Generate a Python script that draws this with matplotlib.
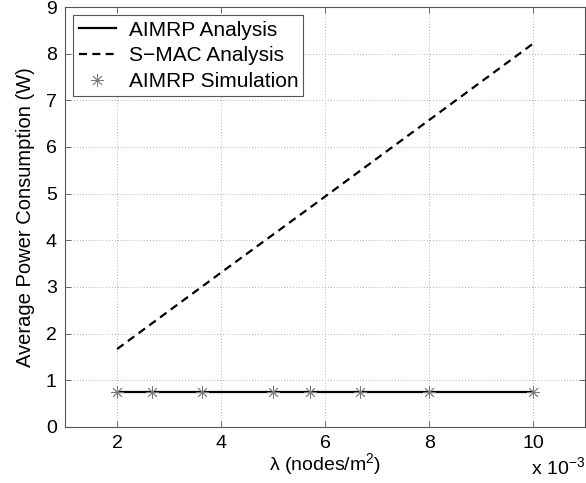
import matplotlib
matplotlib.use('Agg')
import matplotlib.pyplot as plt

# --- data (lambda in units of 1e-3 nodes/m^2) ---
lam_analysis = [2, 4, 6, 8, 10]
aimrp_analysis = [0.74, 0.74, 0.74, 0.74, 0.74]
smac_analysis = [1.67, 3.31, 4.94, 6.58, 8.22]

lam_sim = [2, 2.67, 3.64, 5, 5.71, 6.67, 8, 10]
aimrp_sim = [0.74, 0.74, 0.74, 0.74, 0.74, 0.74, 0.74, 0.74]

xticks = [2, 4, 6, 8, 10]
yticks = list(range(0, 10))

plt.rcParams['font.family'] = ['Liberation Sans', 'DejaVu Sans']
plt.rcParams['mathtext.fontset'] = 'custom'
plt.rcParams['mathtext.rm'] = 'Liberation Sans'
plt.rcParams['mathtext.it'] = 'Liberation Sans'

AX_COLOR = '#555555'
FS = 14

fig = plt.figure(figsize=(5.86, 4.83), dpi=100)
ax = fig.add_axes([0.111, 0.116, 0.888, 0.8695])

ax.plot(lam_analysis, aimrp_analysis, color='black', lw=1.6, label='AIMRP Analysis')
ax.plot(lam_analysis, smac_analysis, color='black', lw=1.6, ls=(0, (3.6, 2.4)), label='S\u2212MAC Analysis')
ax.plot(lam_sim, aimrp_sim, ls='none', marker=(8, 2, 0), ms=9, mew=0.6,
        color='#7a7a7a', label='AIMRP Simulation')

ax.set_xlim(1, 11)
ax.set_ylim(0, 9)
ax.set_xticks(xticks)
ax.set_yticks(yticks)
ax.tick_params(direction='in', length=4, width=0.6, colors=AX_COLOR,
               labelcolor='black', labelsize=FS, top=True, right=True, pad=6)
for sp in ax.spines.values():
    sp.set_color(AX_COLOR)
    sp.set_linewidth(0.8)

ax.grid(True, ls=(0, (1, 2.5)), color='#9a9a9a', lw=0.6)

ax.set_xlabel('\u03bb (nodes/m$^2$)', fontsize=FS, labelpad=-1)
ax.set_ylabel('Average Power Consumption (W)', fontsize=FS + 0.5, labelpad=8)
fig.text(0.999, 0.01, 'x 10$^{-3}$', fontsize=FS, ha='right', va='bottom')

leg = ax.legend(loc='upper left', fontsize=15, fancybox=False, framealpha=1,
                edgecolor=AX_COLOR, handlelength=1.8, borderaxespad=0.4,
                labelspacing=0.32, borderpad=0.25, handletextpad=0.6)
leg.get_frame().set_linewidth(0.8)

fig.savefig('out.png', dpi=100)
